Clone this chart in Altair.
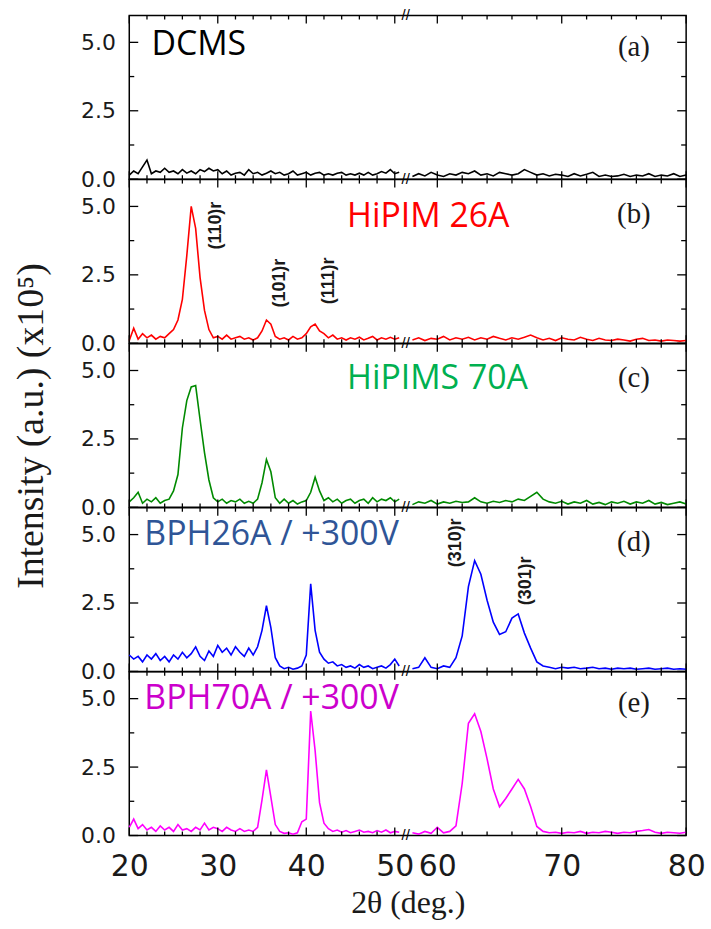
import altair as alt
import pandas as pd

# ---------------- data ----------------
x_left = [20.0 + 0.5 * i for i in range(62)]    # 20.0 ... 50.5
x_right = [58.0 + 0.5 * i for i in range(45)]   # 58.0 ... 80.0

a_left = [0.15, 0.30, 0.20, 0.45, 0.70, 0.20, 0.30, 0.25, 0.40, 0.25,
          0.30, 0.20, 0.35, 0.22, 0.30, 0.20, 0.35, 0.28, 0.40, 0.30,
          0.35, 0.20, 0.30, 0.15, 0.22, 0.25, 0.15, 0.35, 0.20, 0.25,
          0.15, 0.22, 0.30, 0.20, 0.25, 0.15, 0.20, 0.30, 0.15, 0.20,
          0.25, 0.15, 0.22, 0.25, 0.15, 0.20, 0.15, 0.22, 0.25, 0.15,
          0.20, 0.15, 0.22, 0.15, 0.25, 0.15, 0.20, 0.28, 0.22, 0.35,
          0.20, 0.25]
a_right = [0.10, 0.20, 0.12, 0.25, 0.15, 0.10, 0.20, 0.15, 0.25, 0.20,
           0.30, 0.15, 0.20, 0.12, 0.25, 0.20, 0.15, 0.20, 0.35, 0.25,
           0.15, 0.20, 0.12, 0.18, 0.15, 0.10, 0.20, 0.12, 0.18, 0.25,
           0.10, 0.15, 0.10, 0.12, 0.18, 0.10, 0.15, 0.12, 0.20, 0.10,
           0.15, 0.12, 0.20, 0.10, 0.15]

b_left = [0.10, 0.55, 0.15, 0.35, 0.20, 0.30, 0.15, 0.25, 0.20, 0.35,
          0.50, 0.85, 1.60, 3.20, 5.00, 4.20, 2.40, 1.20, 0.50, 0.20,
          0.25, 0.15, 0.30, 0.15, 0.20, 0.25, 0.15, 0.20, 0.12, 0.20,
          0.45, 0.85, 0.70, 0.25, 0.15, 0.20, 0.12, 0.25, 0.15, 0.20,
          0.35, 0.60, 0.70, 0.45, 0.35, 0.20, 0.30, 0.15, 0.20, 0.12,
          0.20, 0.15, 0.22, 0.12, 0.18, 0.25, 0.12, 0.20, 0.15, 0.22,
          0.15, 0.20]
b_right = [0.12, 0.20, 0.10, 0.18, 0.15, 0.25, 0.12, 0.20, 0.15, 0.22,
           0.12, 0.20, 0.15, 0.25, 0.18, 0.12, 0.20, 0.15, 0.22, 0.30,
           0.20, 0.12, 0.18, 0.10, 0.20, 0.15, 0.12, 0.22, 0.15, 0.10,
           0.18, 0.12, 0.10, 0.15, 0.12, 0.08, 0.15, 0.18, 0.10, 0.12,
           0.08, 0.12, 0.10, 0.08, 0.10]

c_left = [0.20, 0.35, 0.55, 0.15, 0.30, 0.20, 0.35, 0.15, 0.25, 0.30,
          0.60, 1.20, 2.90, 3.90, 4.40, 4.45, 3.20, 2.00, 1.00, 0.35,
          0.20, 0.30, 0.15, 0.25, 0.20, 0.30, 0.15, 0.22, 0.15, 0.30,
          0.90, 1.75, 1.30, 0.35, 0.15, 0.30, 0.15, 0.25, 0.12, 0.20,
          0.25, 0.55, 1.10, 0.60, 0.25, 0.35, 0.20, 0.30, 0.15, 0.25,
          0.30, 0.15, 0.25, 0.30, 0.15, 0.35, 0.20, 0.30, 0.25, 0.35,
          0.20, 0.30]
c_right = [0.10, 0.20, 0.15, 0.25, 0.12, 0.20, 0.15, 0.22, 0.18, 0.20,
           0.35, 0.20, 0.15, 0.22, 0.18, 0.25, 0.20, 0.30, 0.25, 0.40,
           0.55, 0.30, 0.20, 0.15, 0.22, 0.12, 0.20, 0.15, 0.25, 0.12,
           0.18, 0.10, 0.20, 0.15, 0.22, 0.12, 0.20, 0.15, 0.25, 0.12,
           0.18, 0.10, 0.15, 0.20, 0.12]

d_left = [0.60, 0.45, 0.55, 0.35, 0.60, 0.45, 0.65, 0.40, 0.55, 0.35,
          0.60, 0.45, 0.70, 0.50, 0.65, 0.90, 0.55, 0.40, 0.75, 0.55,
          0.95, 0.70, 0.85, 0.60, 0.90, 0.70, 0.55, 0.85, 0.60, 0.90,
          1.50, 2.40, 1.60, 0.50, 0.20, 0.10, 0.15, 0.08, 0.12, 0.20,
          0.60, 3.20, 1.50, 0.70, 0.45, 0.30, 0.35, 0.20, 0.25, 0.15,
          0.20, 0.12, 0.25, 0.15, 0.20, 0.10, 0.15, 0.20, 0.12, 0.25,
          0.45, 0.20]
d_right = [0.10, 0.15, 0.50, 0.15, 0.10, 0.20, 0.15, 0.50, 1.30, 3.10,
           4.05, 3.55, 2.60, 1.80, 1.35, 1.45, 1.95, 2.10, 1.40, 0.85,
           0.35, 0.20, 0.15, 0.10, 0.15, 0.12, 0.15, 0.10, 0.12, 0.15,
           0.10, 0.12, 0.08, 0.12, 0.10, 0.12, 0.08, 0.10, 0.12, 0.08,
           0.10, 0.12, 0.08, 0.10, 0.08]

e_left = [0.30, 0.60, 0.25, 0.40, 0.20, 0.30, 0.15, 0.35, 0.20, 0.30,
          0.15, 0.40, 0.20, 0.25, 0.15, 0.30, 0.20, 0.45, 0.20, 0.30,
          0.25, 0.15, 0.30, 0.20, 0.15, 0.25, 0.15, 0.20, 0.15, 0.30,
          1.30, 2.40, 1.40, 0.40, 0.15, 0.08, 0.10, 0.05, 0.10, 0.50,
          0.60, 4.55, 3.10, 1.20, 0.45, 0.25, 0.15, 0.20, 0.12, 0.18,
          0.10, 0.15, 0.20, 0.12, 0.15, 0.10, 0.18, 0.12, 0.20, 0.10,
          0.15, 0.12]
e_right = [0.10, 0.05, 0.15, 0.08, 0.30, 0.10, 0.15, 0.35, 1.90, 4.10,
           4.45, 3.80, 2.80, 1.70, 1.05, 1.35, 1.70, 2.05, 1.70, 1.06,
           0.33, 0.15, 0.10, 0.12, 0.08, 0.12, 0.10, 0.15, 0.08, 0.12,
           0.10, 0.15, 0.12, 0.08, 0.12, 0.10, 0.15, 0.18, 0.22, 0.12,
           0.08, 0.12, 0.10, 0.08, 0.12]

panels = ["a", "b", "c", "d", "e"]
series_left = [a_left, b_left, c_left, d_left, e_left]
series_right = [a_right, b_right, c_right, d_right, e_right]
line_colors = ["#000000", "#FF0000", "#008A00", "#0000FF", "#FF00FF"]

sample_labels = ["DCMS", "HiPIM 26A", "HiPIMS 70A", "BPH26A / +300V", "BPH70A / +300V"]
sample_x = [22.5, 44.6, 44.6, 21.7, 21.7]
sample_y = [4.90, 4.62, 4.69, 4.98, 4.98]
sample_colors = ["#000000", "#FF0000", "#00B050", "#2F5597", "#CC00CC"]

letters = ["(a)", "(b)", "(c)", "(d)", "(e)"]
letter_x = 75.8
letter_y = [4.84, 4.73, 4.73, 4.73, 4.84]

ann_panel = ["b", "b", "b", "d", "d"]
ann_text = ["(110)r", "(101)r", "(111)r", "(310)r", "(301)r"]
ann_x = [29.85, 37.0, 42.6, 61.5, 67.1]
ann_y = [4.30, 2.20, 2.28, 4.70, 3.31]

x_major = [20, 30, 40, 50, 60, 70, 80]
x_minor = [22, 24, 26, 28, 32, 34, 36, 38, 42, 44, 46, 48, 62, 64, 66, 68, 72, 74, 76, 78]
y_major = [0, 2.5, 5]
y_minor = [1.25, 3.75]
break_x = 54.3

# ---------------- scales / geometry ----------------
W, H = 560, 164.6
ymax = 5.98
xdom = [20, 50.9, 57.7, 80]
xrng = [0, 275, 281, 560]
xscale = alt.Scale(domain=xdom, range=xrng)
yscale = alt.Scale(domain=[0, ymax], nice=False, zero=False)

ypp = ymax / H                  # data units per pixel (y)
xpp_left = (xdom[1] - xdom[0]) / (xrng[1] - xrng[0])
xpp_right = (xdom[3] - xdom[2]) / (xrng[3] - xrng[2])

# line data
rows = []
for p, yl, yr in zip(panels, series_left, series_right):
    for x, y in zip(x_left, yl):
        rows.append({"panel": p, "seg": "L", "x": x, "y": y})
    for x, y in zip(x_right, yr):
        rows.append({"panel": p, "seg": "R", "x": x, "y": y})
df = pd.DataFrame(rows)

# inward tick marks (drawn through the scales)
trows = []
for v, L in [(v, 8) for v in x_major] + [(v, 4) for v in x_minor]:
    trows.append({"x": v, "x2": v, "y": 0, "y2": L * ypp})
    trows.append({"x": v, "x2": v, "y": ymax, "y2": ymax - L * ypp})
for v, L in [(v, 9) for v in y_major] + [(v, 5) for v in y_minor]:
    trows.append({"x": 20, "x2": 20 + L * xpp_left, "y": v, "y2": v})
    trows.append({"x": 80, "x2": 80 - L * xpp_right, "y": v, "y2": v})
ticks_df = pd.DataFrame(trows)

FONT_SANS = "DejaVu Sans"
FONT_SERIF = "Liberation Serif"
FONT_LABEL = "Open Sans"


def make_panel(i):
    p = panels[i]
    bottom = i == len(panels) - 1
    if bottom:
        xaxis = alt.Axis(values=x_major, labelFont=FONT_SANS, labelFontSize=30,
                         labelPadding=16, labelColor="#1a1a1a", ticks=False,
                         domain=False, grid=False, labelFlush=False,
                         title="2θ (deg.)", titleFont=FONT_SERIF, titleFontSize=32,
                         titleFontWeight="normal", titleColor="#1a1a1a", titlePadding=6)
    else:
        xaxis = None
    ytitle = "Intensity (a.u.) (x10⁵)" if i == 2 else ""
    yaxis = alt.Axis(values=y_major, format=".1f", labelFont=FONT_SANS, labelFontSize=22,
                     labelPadding=14, labelColor="#1a1a1a", ticks=False, domain=False,
                     grid=False, title=ytitle, titleFont=FONT_SERIF, titleFontSize=38,
                     titleFontWeight="normal", titleColor="#1a1a1a", titlePadding=30)

    X = lambda f: alt.X(f, scale=xscale, axis=xaxis)
    Y = lambda f: alt.Y(f, scale=yscale, axis=yaxis)

    line = alt.Chart(df[df.panel == p]).mark_line(
        color=line_colors[i], strokeWidth=1.6, interpolate="linear"
    ).encode(x=X("x:Q"), y=Y("y:Q"), detail="seg:N")

    tick_layer = alt.Chart(ticks_df).mark_rule(color="#000000", strokeWidth=1.3).encode(
        x=X("x:Q"), x2="x2:Q", y=Y("y:Q"), y2="y2:Q",
    )

    lab_df = pd.DataFrame({"x": [sample_x[i]], "y": [sample_y[i]], "t": [sample_labels[i]]})
    lab = alt.Chart(lab_df).mark_text(
        align="left", baseline="middle", font=FONT_LABEL, fontSize=34,
        color=sample_colors[i]
    ).encode(x=X("x:Q"), y=Y("y:Q"), text="t:N")

    let_df = pd.DataFrame({"x": [letter_x], "y": [letter_y[i]], "t": [letters[i]]})
    let = alt.Chart(let_df).mark_text(
        align="center", baseline="middle", font=FONT_SERIF, fontSize=29, color="#1a1a1a"
    ).encode(x=X("x:Q"), y=Y("y:Q"), text="t:N")

    by = [0.0, ymax] if i == 0 else [0.0]
    brk_df = pd.DataFrame({"x": [break_x] * len(by), "y": by, "t": ["//"] * len(by)})
    brk = alt.Chart(brk_df).mark_text(
        align="center", baseline="middle", font="Liberation Sans", fontSize=15, color="#000000"
    ).encode(x=X("x:Q"), y=Y("y:Q"), text="t:N")

    layers = [line, tick_layer, lab, let, brk]

    sel = [k for k, ap in enumerate(ann_panel) if ap == p]
    if sel:
        ann_df = pd.DataFrame({"x": [ann_x[k] for k in sel], "y": [ann_y[k] for k in sel],
                               "t": [ann_text[k] for k in sel]})
        ann = alt.Chart(ann_df).mark_text(
            align="center", baseline="middle", font="Liberation Sans", fontSize=18,
            fontWeight="bold", angle=270, color="#1a1a1a"
        ).encode(x=X("x:Q"), y=Y("y:Q"), text="t:N")
        layers.append(ann)

    return alt.layer(*layers).properties(width=W, height=H)


chart = alt.vconcat(*[make_panel(i) for i in range(5)], spacing=0, bounds="flush").properties(
    padding={"left": 12, "top": 5, "right": 5, "bottom": 5},
    background="white",
).configure_view(stroke="#000000", strokeWidth=1.5)

chart.save("out.html", embed_options={"renderer": "svg", "actions": False})
